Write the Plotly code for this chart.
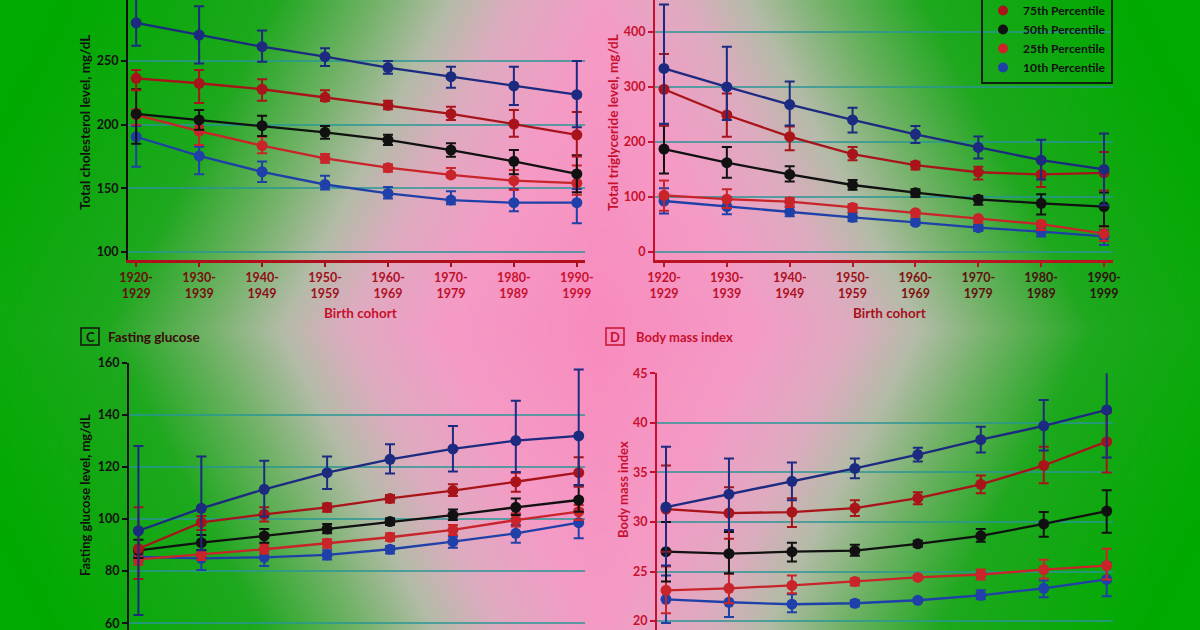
import base64
import struct
import zlib

import numpy as np
import plotly.graph_objects as go

# ---------------- data ----------------
cohorts = ["1920-1929", "1930-1939", "1940-1949", "1950-1959",
           "1960-1969", "1970-1979", "1980-1989", "1990-1999"]
percentiles = ["90th Percentile", "75th Percentile", "50th Percentile",
               "25th Percentile", "10th Percentile"]

# A  Total cholesterol (mg/dL)
chol_p90 = [280, 270.4, 261.2, 253.4, 244.8, 237.7, 230.4, 223.5]
chol_p90_hi = [303, 293, 274, 260, 250, 245.5, 245.5, 250]
chol_p90_lo = [262, 248, 249.5, 246, 240, 229, 215.4, 198]
chol_p75 = [236.4, 232.5, 227.8, 221.5, 215.2, 208.4, 200.5, 192]
chol_p75_hi = [243, 243, 235.6, 227, 218.8, 214, 211.5, 210]
chol_p75_lo = [227, 217, 218.8, 218.6, 212, 203.7, 190.5, 175]
chol_p50 = [208.4, 203.7, 199.2, 194, 188, 180, 171.2, 161.3]
chol_p50_hi = [227.8, 211.5, 207, 199, 192, 185.3, 180, 176]
chol_p50_lo = [185, 196, 191, 189, 184, 174.8, 161, 147]
chol_p25 = [207.6, 195, 183.5, 173.6, 166.2, 160.5, 156, 154]
chol_p25_hi = [212, 199, 190.5, 177, 168.8, 166, 164.4, 168]
chol_p25_lo = [200, 184, 177.5, 170, 163, 158.6, 148.7, 145]
chol_p10 = [190.5, 175.4, 163, 153, 146, 140.8, 138.7, 138.7]
chol_p10_hi = [199, 182.7, 171, 159.8, 151, 147.6, 149.5, 149.5]
chol_p10_lo = [167, 161, 155, 149, 142, 137.5, 132, 122.5]

# B  Total triglyceride (mg/dL)
tg_p90 = [333.6, 300, 268, 240, 214, 190, 167, 150]
tg_p90_hi = [450, 373, 310, 262, 229, 210, 204, 215.5]
tg_p90_lo = [233, 240, 230, 217, 198, 170, 132, 85]
tg_p75 = [295.8, 249, 209.6, 178, 158, 145, 141, 144]
tg_p75_hi = [360, 288, 228, 191, 164, 155, 165, 181.6]
tg_p75_lo = [230, 209.7, 185, 167, 150, 132, 118, 112]
tg_p50 = [187, 162.4, 141, 121.8, 107.9, 95.8, 88.5, 82.4]
tg_p50_hi = [230, 191, 156, 131, 114, 102, 105, 108]
tg_p50_lo = [142.5, 135, 128, 113, 100, 86, 68, 47]
tg_p25 = [103, 96, 91.5, 81, 71.5, 61, 50.6, 33.6]
tg_p25_hi = [130, 114, 98, 87, 75, 63, 55, 47]
tg_p25_lo = [75, 80, 82, 73, 64, 53, 40, 20]
tg_p10 = [92.7, 82.4, 73.3, 63, 54, 44.2, 37, 28.5]
tg_p10_hi = [116, 100, 82.5, 71, 60, 49, 45, 40]
tg_p10_lo = [70, 68.5, 65, 56, 49, 38, 28, 12.7]

# C  Fasting glucose (mg/dL)
glu_p90 = [95.5, 104.1, 111.4, 117.8, 122.9, 126.9, 130.1, 131.9]
glu_p90_hi = [128, 124, 122.4, 124, 128.7, 135.7, 145.4, 157.4]
glu_p90_lo = [63.2, 88, 101, 111.5, 117.5, 118.2, 118, 113]
glu_p75 = [88.6, 98.7, 101.8, 104.5, 107.9, 110.9, 114.3, 117.8]
glu_p75_hi = [104.5, 101.2, 104.5, 106, 109.2, 113.3, 117.8, 123.7]
glu_p75_lo = [77, 95.8, 99, 102.8, 106.3, 108.8, 110.5, 112.4]
glu_p50 = [88.0, 90.9, 93.5, 96.2, 99, 101.5, 104.5, 107.3]
glu_p50_hi = [92, 93.9, 96.2, 98.1, 100.3, 103.7, 107.9, 113]
glu_p50_lo = [85, 88.1, 90.9, 94.5, 97.7, 99.6, 101.5, 102.8]
glu_p25 = [84.5, 86.4, 88.4, 90.7, 93, 95.8, 99.6, 102.8]
glu_p25_hi = [86.8, 88, 90.4, 92.2, 94.5, 97.7, 102.2, 105.4]
glu_p25_lo = [82.4, 84.3, 86.8, 89, 91.7, 93.9, 97.1, 99.6]
glu_p10 = [85.5, 84.9, 85.3, 86.2, 88.4, 91.3, 94.5, 98.6]
glu_p10_hi = [86.8, 86.8, 88, 88, 89.6, 93.2, 97.7, 103.7]
glu_p10_lo = [83.6, 80.4, 82, 84.5, 86.8, 89, 90.9, 92.6]

# D  Body mass index
bmi_p90 = [31.5, 32.8, 34.1, 35.4, 36.8, 38.3, 39.7, 41.3]
bmi_p90_hi = [37.6, 36.4, 36, 36.4, 37.5, 39.6, 42.3, 46]
bmi_p90_lo = [25.6, 29.2, 32.2, 34.4, 36.1, 37, 37.2, 36.5]
bmi_p75 = [31.3, 30.9, 31, 31.4, 32.4, 33.8, 35.7, 38.1]
bmi_p75_hi = [35.7, 33.5, 32.4, 32.2, 33, 34.7, 37.6, 41]
bmi_p75_lo = [27, 28.3, 29.5, 30.6, 31.8, 32.9, 33.9, 35]
bmi_p50 = [27, 26.8, 27, 27.1, 27.8, 28.6, 29.8, 31.1]
bmi_p50_hi = [30, 29, 27.9, 27.7, 28.1, 29.3, 31, 33.2]
bmi_p50_lo = [24, 24.8, 26, 26.6, 27.5, 28, 28.5, 28.9]
bmi_p25 = [23.1, 23.3, 23.6, 24, 24.4, 24.7, 25.2, 25.6]
bmi_p25_hi = [25.5, 24.8, 24.6, 24.3, 24.6, 25.2, 26.2, 27.3]
bmi_p25_lo = [20.8, 21.8, 22.8, 23.6, 24.2, 24.2, 24.3, 24.2]
bmi_p10 = [22.2, 21.9, 21.7, 21.8, 22.1, 22.6, 23.3, 24.2]
bmi_p10_hi = [24.6, 23.3, 22.7, 22.1, 22.3, 23.1, 24.1, 25.9]
bmi_p10_lo = [19.8, 20.4, 20.9, 21.5, 21.9, 22.2, 22.4, 22.5]

# ---------------- styling ----------------
FONT = "Lato, Roboto, sans-serif"
series_colors = ["#1c2a80", "#a8141a", "#111111", "#c8242a", "#1f40a8"]
RED = "#c8102e"
DARK = "#141010"
GRID = "rgba(40,150,150,0.75)"


def bg_png():
    w, h = 240, 126
    xs = (np.arange(w) + 0.5) / w * 1200
    ys = (np.arange(h) + 0.5) / h * 630
    X, Y = np.meshgrid(xs, ys)
    d = np.abs(X - 600) / 320 + np.abs(Y - 330) / 620
    stops = [0, 0.5, 0.8, 1.0, 1.25, 1.55, 2.2]
    r = np.interp(d, stops, [248, 245, 222, 180, 110, 30, 0])
    g = np.interp(d, stops, [140, 155, 172, 188, 178, 168, 170])
    b = np.interp(d, stops, [190, 198, 192, 168, 100, 30, 0])
    img = np.stack([r, g, b], axis=-1).clip(0, 255).astype(np.uint8)
    raw = b"".join(b"\x00" + img[i].tobytes() for i in range(h))

    def chunk(tag, data):
        return (struct.pack(">I", len(data)) + tag + data +
                struct.pack(">I", zlib.crc32(tag + data) & 0xFFFFFFFF))

    png = (b"\x89PNG\r\n\x1a\n" +
           chunk(b"IHDR", struct.pack(">IIBBBBB", w, h, 8, 2, 0, 0, 0)) +
           chunk(b"IDAT", zlib.compress(raw, 9)) + chunk(b"IEND", b""))
    return "data:image/png;base64," + base64.b64encode(png).decode()


def tick_labels(colors):
    out = []
    for lab, c in zip(cohorts, colors):
        a, b = lab.split("-")
        out.append(f'<span style="color:{c}">{a}-</span><br>'
                   f'<span style="color:{c}">{b}</span>')
    return out


fig = go.Figure()

panels = [
    ("x", "y", [(chol_p90, chol_p90_hi, chol_p90_lo), (chol_p75, chol_p75_hi, chol_p75_lo),
                (chol_p50, chol_p50_hi, chol_p50_lo), (chol_p25, chol_p25_hi, chol_p25_lo),
                (chol_p10, chol_p10_hi, chol_p10_lo)]),
    ("x2", "y2", [(tg_p90, tg_p90_hi, tg_p90_lo), (tg_p75, tg_p75_hi, tg_p75_lo),
                  (tg_p50, tg_p50_hi, tg_p50_lo), (tg_p25, tg_p25_hi, tg_p25_lo),
                  (tg_p10, tg_p10_hi, tg_p10_lo)]),
    ("x3", "y3", [(glu_p90, glu_p90_hi, glu_p90_lo), (glu_p75, glu_p75_hi, glu_p75_lo),
                  (glu_p50, glu_p50_hi, glu_p50_lo), (glu_p25, glu_p25_hi, glu_p25_lo),
                  (glu_p10, glu_p10_hi, glu_p10_lo)]),
    ("x4", "y4", [(bmi_p90, bmi_p90_hi, bmi_p90_lo), (bmi_p75, bmi_p75_hi, bmi_p75_lo),
                  (bmi_p50, bmi_p50_hi, bmi_p50_lo), (bmi_p25, bmi_p25_hi, bmi_p25_lo),
                  (bmi_p10, bmi_p10_hi, bmi_p10_lo)]),
]

xidx = list(range(len(cohorts)))
for xa, ya, series in panels:
    for k in reversed(range(5)):
        val, hi, lo = series[k]
        col = series_colors[k]
        fig.add_trace(go.Scatter(
            x=xidx, y=val, xaxis=xa, yaxis=ya, mode="lines+markers",
            name=percentiles[k], showlegend=False, cliponaxis=False,
            line=dict(color=col, width=2.3),
            marker=dict(color=col, size=11),
            error_y=dict(type="data", symmetric=False,
                         array=[h - v for h, v in zip(hi, val)],
                         arrayminus=[v - l for v, l in zip(val, lo)],
                         color=col, thickness=2, width=5),
        ))

# legend-only entries
for k in range(5):
    fig.add_trace(go.Scatter(
        x=[None], y=[None], xaxis="x2", yaxis="y2", mode="markers",
        name=percentiles[k], showlegend=True,
        marker=dict(color=series_colors[k], size=10)))

tickfont = dict(family=FONT, size=12.5, weight="bold")
common_y = dict(showline=True, linewidth=2, ticks="outside", ticklen=5, tickwidth=2,
                showgrid=True, gridcolor=GRID, gridwidth=1.5, zeroline=False,
                ticklabeloverflow="allow")
common_x = dict(range=[-0.13, 7.13], tickvals=xidx, showgrid=False, zeroline=False,
                ticks="outside", ticklen=4, tickwidth=1.5)

A_cols = ["#6a0c0c", "#780c10", "#8c0e16", "#a0101e", "#b01026", "#be102a", "#c8102e", "#cc102e"]
B_cols = ["#c4102c", "#bc1028", "#ac1020", "#9a1018", "#801010", "#621010", "#461010", "#2e1010"]

fig.update_layout(
    width=1200, height=630,
    margin=dict(l=0, r=0, t=0, b=0, pad=0, autoexpand=False),
    paper_bgcolor="#00a800", plot_bgcolor="rgba(0,0,0,0)",
    font=dict(family=FONT, color=DARK, size=13),
    images=[dict(source=bg_png(), xref="paper", yref="paper", x=0, y=1,
                 sizex=1, sizey=1, sizing="stretch", layer="below")],
    xaxis=dict(domain=[128 / 1200, 585 / 1200], anchor="y",
               ticktext=tick_labels(A_cols), linecolor="#b0101c", linewidth=2.5,
               tickcolor="#a0101c", showline=True, tickfont=tickfont, **common_x),
    yaxis=dict(domain=[1 - 260 / 630, 1], anchor="x", range=[93.7, 297.9], dtick=50,
               linecolor=DARK, tickcolor=DARK, tickfont=dict(tickfont, color=DARK), **common_y),
    xaxis2=dict(domain=[655 / 1200, 1113 / 1200], anchor="y2",
                ticktext=tick_labels(B_cols), linecolor="#b81424", linewidth=2.5,
                tickcolor="#b81424", showline=True, tickfont=tickfont,
                **dict(common_x, range=[-0.143, 7.143])),
    yaxis2=dict(domain=[1 - 260 / 630, 1], anchor="x2", range=[-14.5, 458], dtick=100,
                linecolor=RED, tickcolor=RED, tickfont=dict(tickfont, color=RED), **common_y),
    xaxis3=dict(domain=[129 / 1200, 585 / 1200], anchor="y3", showline=False,
                showticklabels=False, **dict(common_x, range=[-0.15, 7.1], ticks="")),
    yaxis3=dict(domain=[0, 1 - 362.7 / 630], anchor="x3", range=[57.4, 160], dtick=20,
                linecolor=DARK, tickcolor=DARK, tickfont=dict(tickfont, color=DARK), **common_y),
    xaxis4=dict(domain=[657 / 1200, 1113 / 1200], anchor="y4", showline=False,
                showticklabels=False, **dict(common_x, range=[-0.143, 7.1], ticks="")),
    yaxis4=dict(domain=[0, 1 - 373.3 / 630], anchor="x4", range=[19.1, 45], dtick=5,
                linecolor=RED, tickcolor=RED, tickfont=dict(tickfont, color=RED), **common_y),
    legend=dict(x=1113 / 1200, xanchor="right", y=1 - 84 / 630, yanchor="bottom",
                bgcolor="rgba(0,0,0,0)", bordercolor="#102010", borderwidth=2,
                font=dict(family=FONT, size=12, color="#101010", weight="bold"),
                itemwidth=30, tracegroupgap=0),
)


def px(x):
    return x / 1200


def py(y):
    return 1 - y / 630


ann = [
    (85, 123, "Total cholesterol level, mg/dL", DARK, -90, "center", 13.5),
    (613, 123, "Total triglyceride level, mg/dL", RED, -90, "center", 13.5),
    (85, 495, "Fasting glucose level, mg/dL", DARK, -90, "center", 13),
    (623, 490, "Body mass index", RED, -90, "center", 13),
    (360, 313, "Birth cohort", RED, 0, "center", 13.5),
    (889, 313, "Birth cohort", "#a8101e", 0, "center", 13.5),
    (90, 336.5, "C", DARK, 0, "center", 13),
    (106, 336.5, "Fasting glucose", "#3a0a0a", 0, "left", 13.5),
    (615, 336.5, "D", RED, 0, "center", 13),
    (634, 336.5, "Body mass index", RED, 0, "left", 13),
]
for x, y, t, c, ang, xa, sz in ann:
    fig.add_annotation(x=px(x), y=py(y), xref="paper", yref="paper", text=t,
                       showarrow=False, textangle=ang, xanchor=xa, yanchor="middle",
                       font=dict(family=FONT, size=sz, color=c, weight="bold"))

fig.add_shape(type="rect", xref="paper", yref="paper", x0=px(81), x1=px(99),
              y0=py(345), y1=py(328), line=dict(color=DARK, width=1.5))
fig.add_shape(type="rect", xref="paper", yref="paper", x0=px(606), x1=px(624),
              y0=py(345), y1=py(328), line=dict(color=RED, width=1.5))

fig.write_html("out.html", config={"displayModeBar": False},
               post_script="document.body.style.margin='0';document.body.style.background='#00a800';")
